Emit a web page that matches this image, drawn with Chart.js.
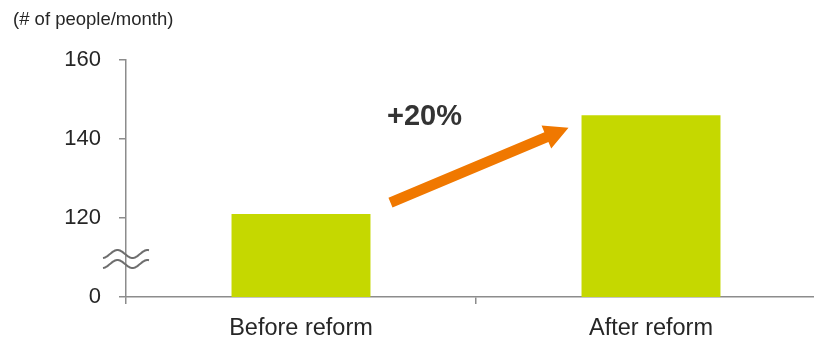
<!DOCTYPE html>
<html>
<head>
<meta charset="utf-8">
<script src="https://cdn.jsdelivr.net/npm/chart.js@4/dist/chart.umd.min.js"></script>
<style>
html,body{margin:0;padding:0;background:#fff;}
#wrap{width:814px;height:339px;position:relative;}
</style>
</head>
<body>
<div id="wrap"><canvas id="c" width="814" height="339"></canvas></div>
<script>
const categories = ["Before reform", "After reform"];
const peoplePerMonth = [121, 146];
const yTickValues = [100, 120, 140, 160];
const yTickLabels = ["0", "120", "140", "160"];
const unitLabel = "(# of people/month)";
const changeLabel = "+20%";

const axisColor = "#8c8c8c";
const textColor = "#262626";

// the category axis runs a little past the right edge of the picture
const widenX = {
  id: "widenX",
  afterLayout(chart) {
    const x = chart.scales.x;
    x.right = x.right + 12;
    x.width = x.right - x.left;
    x.configure();
  }
};

const overlay = {
  id: "overlay",
  afterDraw(chart) {
    const ctx = chart.ctx;
    const y = chart.scales.y;
    const meta = chart.getDatasetMeta(0);
    const b0 = meta.data[0], b1 = meta.data[1];
    // axis break mark
    const ax = chart.chartArea.left;
    const yc = (y.getPixelForValue(yTickValues[0]) + y.getPixelForValue(yTickValues[1])) / 2 + 1.5;
    ctx.save();
    ctx.strokeStyle = "#6e6e6e";
    ctx.lineWidth = 2;
    [-5, 5].forEach(dy => {
      ctx.beginPath();
      for (let i = 0; i <= 46; i++) {
        const px = ax - 23 + i;
        const py = yc + dy + 4 * Math.sin(2 * Math.PI * (i - 7) / 30 + Math.PI);
        if (i === 0) ctx.moveTo(px, py); else ctx.lineTo(px, py);
      }
      ctx.stroke();
    });
    ctx.restore();

    // arrow
    const sx = b0.x + b0.width / 2 + 20, sy = b0.y - 11.5;
    const tx = b1.x - b1.width / 2 - 13, ty = b1.y + 12.5;
    const ang = Math.atan2(ty - sy, tx - sx);
    const headLen = 24, headHalf = 12.5, shaft = 10.5;
    const bx = tx - headLen * Math.cos(ang), by = ty - headLen * Math.sin(ang);
    const nx = -Math.sin(ang), ny = Math.cos(ang);
    ctx.save();
    ctx.fillStyle = "#f07800";
    ctx.beginPath();
    ctx.moveTo(sx + nx * shaft / 2, sy + ny * shaft / 2);
    ctx.lineTo(bx + nx * shaft / 2, by + ny * shaft / 2);
    ctx.lineTo(bx + nx * headHalf, by + ny * headHalf);
    ctx.lineTo(tx, ty);
    ctx.lineTo(bx - nx * headHalf, by - ny * headHalf);
    ctx.lineTo(bx - nx * shaft / 2, by - ny * shaft / 2);
    ctx.lineTo(sx - nx * shaft / 2, sy - ny * shaft / 2);
    ctx.closePath();
    ctx.fill();
    // label
    ctx.fillStyle = "#333333";
    ctx.font = "bold 29px 'Liberation Sans', Arial, sans-serif";
    ctx.textAlign = "center";
    ctx.textBaseline = "middle";
    ctx.fillText(changeLabel, sx + 34, ty - 11);
    ctx.restore();
  }
};

new Chart(document.getElementById("c"), {
  type: "bar",
  data: {
    labels: categories,
    datasets: [{
      data: peoplePerMonth,
      backgroundColor: "#c5d800",
      borderWidth: 0,
      categoryPercentage: 1,
      barPercentage: 0.397
    }]
  },
  options: {
    responsive: false,
    animation: false,
    devicePixelRatio: 1,
    layout: { padding: { left: 13, right: 0, top: 0, bottom: 0 } },
    plugins: {
      legend: { display: false },
      tooltip: { enabled: false },
      title: {
        display: true,
        text: unitLabel,
        align: "start",
        color: textColor,
        font: { family: "'Liberation Sans', Arial, sans-serif", size: 18.5, weight: "normal" },
        padding: { top: 8.5, bottom: 29.3 }
      }
    },
    scales: {
      x: {
        offset: true,
        grid: { display: true, drawOnChartArea: false, drawTicks: true, tickLength: 7, color: axisColor, lineWidth: 1.5, offset: true },
        border: { display: true, color: axisColor, width: 1.5 },
        ticks: { color: textColor, padding: 10, font: { family: "'Liberation Sans', Arial, sans-serif", size: 23.5 } },
        afterFit(scale) { scale.height = 42; }
      },
      y: {
        min: 100,
        max: 160,
        afterBuildTicks(scale) { scale.ticks = yTickValues.map(v => ({ value: v })); },
        grid: { display: true, drawOnChartArea: false, drawTicks: true, tickLength: 7, color: axisColor, lineWidth: 1.5 },
        border: { display: true, color: axisColor, width: 1.5 },
        ticks: {
          color: textColor,
          padding: 18,
          font: { family: "'Liberation Sans', Arial, sans-serif", size: 22 },
          callback: (v) => yTickLabels[yTickValues.indexOf(v)]
        },
        afterFit(scale) { scale.width = 113; }
      }
    }
  },
  plugins: [widenX, overlay]
});
</script>
</body>
</html>
